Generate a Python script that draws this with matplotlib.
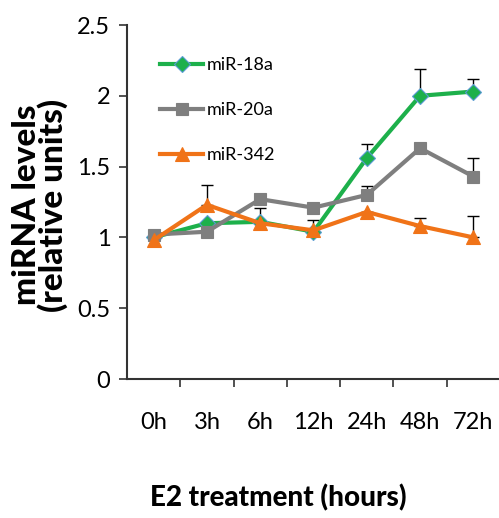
import matplotlib
matplotlib.use("Agg")
import matplotlib.pyplot as plt
import numpy as np

categories = ["0h", "3h", "6h", "12h", "24h", "48h", "72h"]
mir18a = [1.00, 1.10, 1.11, 1.04, 1.56, 2.00, 2.03]
mir18a_err = [0.0, 0.0, 0.0, 0.08, 0.10, 0.19, 0.09]
mir20a = [1.02, 1.04, 1.27, 1.21, 1.30, 1.63, 1.43]
mir20a_err = [0.0, 0.0, 0.0, 0.0, 0.06, 0.0, 0.13]
mir342 = [0.98, 1.23, 1.10, 1.05, 1.18, 1.08, 1.00]
mir342_err = [0.0, 0.14, 0.11, 0.0, 0.0, 0.06, 0.15]

font = ["Lato", "DejaVu Sans"]
plt.rcParams["font.family"] = font

fig = plt.figure(figsize=(4.99, 5.18), dpi=100)
ax = fig.add_axes([127/499, 1-379/518, 373/499, 354/518])

x = np.arange(len(categories))
series = [
    ("miR-18a", mir18a, mir18a_err, "#1DB04B", "D", 8, "#5B9BD5"),
    ("miR-20a", mir20a, mir20a_err, "#7F7F7F", "s", 9, "#7F7F7F"),
    ("miR-342", mir342, mir342_err, "#F07318", "^", 10, "#F07318"),
]
for name, vals, err, col, mk, ms, mec in series:
    v = np.array(vals); e = np.array(err)
    ax.errorbar(x, v, yerr=[np.zeros_like(e), e], fmt="none", ecolor="black",
                elinewidth=1.0, capsize=4, capthick=1.0, zorder=1)
    ax.plot(x, v, color=col, lw=3, marker=mk, markersize=ms, markerfacecolor=col,
            markeredgecolor=mec, markeredgewidth=0.8, label=name, zorder=2)

ax.set_xlim(-0.5, len(categories) - 0.5)
ax.set_ylim(0, 2.5)
ax.set_yticks([0, 0.5, 1, 1.5, 2, 2.5])
ax.set_yticklabels(["0", "0.5", "1", "1.5", "2", "2.5"])
ax.set_xticks(x)
ax.set_xticklabels(categories)
ax.set_xticks(np.arange(len(categories)) + 0.5, minor=True)
ax.tick_params(axis="x", which="major", length=0, pad=24, labelsize=17)
ax.tick_params(axis="x", which="minor", length=6, width=1.2, color="#333333")
ax.tick_params(axis="y", which="major", length=6, width=1.2, color="#333333", labelsize=17, pad=6)
for s in ["top", "right"]:
    ax.spines[s].set_visible(False)
for s in ["left", "bottom"]:
    ax.spines[s].set_linewidth(1.5)
    ax.spines[s].set_color("#333333")

leg = ax.legend(loc="upper left", bbox_to_anchor=(0.045, 0.955), frameon=False,
                fontsize=13, handlelength=2.4, labelspacing=1.6, handletextpad=0.2)

fig.text(278/499, 1 - 498/518, "E2 treatment (hours)", ha="center", va="center",
         fontsize=20, fontweight="black")
fig.text(40/499, 1 - 205/518, "miRNA levels\n(relative units)", ha="center", va="center",
         rotation=90, fontsize=24, fontweight="black", linespacing=0.82)

fig.savefig("out.png", dpi=100)
